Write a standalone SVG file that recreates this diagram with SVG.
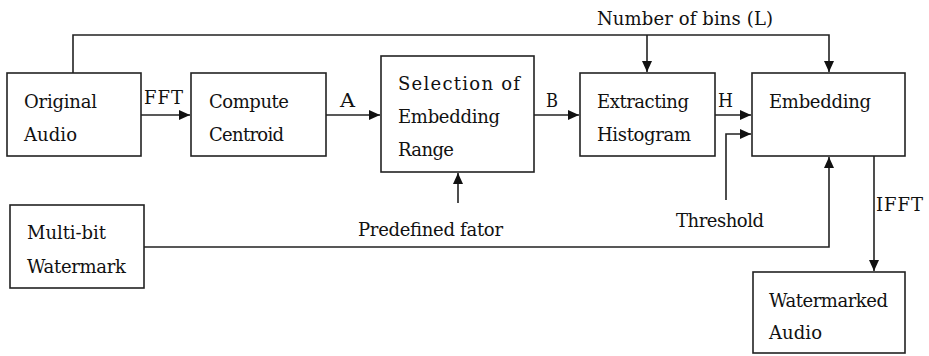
<svg xmlns="http://www.w3.org/2000/svg" width="929" height="356" viewBox="0 0 929 356" font-family="'DejaVu Serif', 'Liberation Serif', serif">
<style>
.box{fill:#fff;stroke:#222;stroke-width:1.6}
.ln{fill:none;stroke:#222;stroke-width:1.6}
text{font-family:"DejaVu Serif","Liberation Serif",serif;font-size:18px;fill:#111}
</style>
<defs>
<marker id="ah" markerUnits="userSpaceOnUse" markerWidth="12" markerHeight="10" refX="11" refY="5" orient="auto">
<path d="M0,0 L11,5 L0,10 z" fill="#111"/>
</marker>
</defs>
<rect width="929" height="356" fill="#fff"/>
<g id="connectors">
<path class="ln" d="M73,73 V35 H829 V72" marker-end="url(#ah)"/>
<path class="ln" d="M647,35 V72" marker-end="url(#ah)"/>
<path class="ln" d="M141,115 H190" marker-end="url(#ah)"/>
<path class="ln" d="M326,115 H380" marker-end="url(#ah)"/>
<path class="ln" d="M534,115 H579" marker-end="url(#ah)"/>
<path class="ln" d="M715,115 H751" marker-end="url(#ah)"/>
<path class="ln" d="M726,200 V134 H751" marker-end="url(#ah)"/>
<path class="ln" d="M458,203 V173" marker-end="url(#ah)"/>
<path class="ln" d="M144,247 H829 V157" marker-end="url(#ah)"/>
<path class="ln" d="M874,156 V271" marker-end="url(#ah)"/>
<text x="144" y="104" textLength="39" lengthAdjust="spacing">FFT</text>
<text x="340" y="107" textLength="15" lengthAdjust="spacingAndGlyphs">A</text>
<text x="546" y="107" textLength="12" lengthAdjust="spacingAndGlyphs">B</text>
<text x="718" y="107" textLength="15" lengthAdjust="spacingAndGlyphs">H</text>
<text x="876" y="211" textLength="47" lengthAdjust="spacing">IFFT</text>
<text x="597" y="25" textLength="176" lengthAdjust="spacing">Number of bins (L)</text>
<text x="676" y="227" textLength="88" lengthAdjust="spacing">Threshold</text>
<text x="358" y="236" textLength="145" lengthAdjust="spacing">Predefined fator</text>
</g>
<g id="original-audio">
<rect class="box" x="7" y="73" width="134" height="83"/>
<text x="24" y="108" textLength="73" lengthAdjust="spacing">Original</text>
<text x="24" y="141" textLength="53" lengthAdjust="spacing">Audio</text>
</g>
<g id="compute-centroid">
<rect class="box" x="191" y="73" width="135" height="83"/>
<text x="209" y="108" textLength="80" lengthAdjust="spacing">Compute</text>
<text x="209" y="141" textLength="75" lengthAdjust="spacing">Centroid</text>
</g>
<g id="selection">
<rect class="box" x="381" y="56" width="153" height="116"/>
<text x="398" y="90" textLength="122" lengthAdjust="spacing">Selection of</text>
<text x="398" y="123" textLength="102" lengthAdjust="spacing">Embedding</text>
<text x="398" y="156" textLength="56" lengthAdjust="spacing">Range</text>
</g>
<g id="extracting-histogram">
<rect class="box" x="580" y="73" width="135" height="83"/>
<text x="597" y="108" textLength="92" lengthAdjust="spacing">Extracting</text>
<text x="597" y="141" textLength="94" lengthAdjust="spacing">Histogram</text>
</g>
<g id="embedding">
<rect class="box" x="752" y="73" width="153" height="83"/>
<text x="769" y="108" textLength="102" lengthAdjust="spacing">Embedding</text>
</g>
<g id="multibit-watermark">
<rect class="box" x="10" y="205" width="134" height="83"/>
<text x="27" y="239" textLength="79" lengthAdjust="spacing">Multi-bit</text>
<text x="27" y="273" textLength="99" lengthAdjust="spacing">Watermark</text>
</g>
<g id="watermarked-audio">
<rect class="box" x="753" y="272" width="152" height="81"/>
<text x="769" y="307" textLength="119" lengthAdjust="spacing">Watermarked</text>
<text x="769" y="339" textLength="53" lengthAdjust="spacing">Audio</text>
</g>
</svg>
